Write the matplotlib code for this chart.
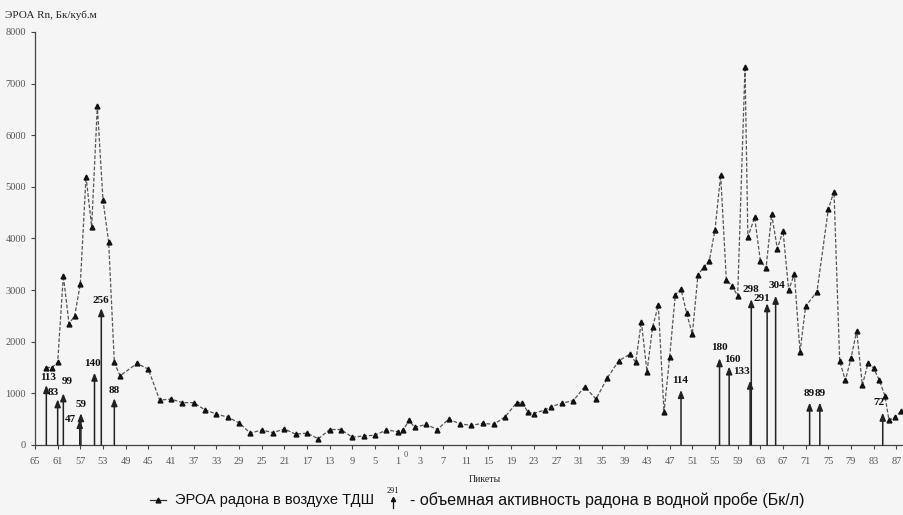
import numpy as np
import matplotlib
matplotlib.use("Agg")
import matplotlib.pyplot as plt
from matplotlib.lines import Line2D

# picket position: left branch negative (65..1), then 0, right branch positive (1..87)
air_pk = [-63, -62, -61, -60, -59, -58, -57, -56, -55, -54, -53, -52, -51, -50,
          -47, -45, -43, -41, -39, -37, -35, -33, -31, -29, -27, -25, -23, -21,
          -19, -17, -15, -13, -11, -9, -7, -5, -3, -1, 0, 1, 2, 4, 6, 8, 10,
          12, 14, 16, 18, 20, 21, 22, 23, 25, 26, 28, 30, 32, 34, 36, 38, 40,
          41, 42, 43, 44, 45, 46, 47, 48, 49, 50, 51, 52, 53, 54, 55, 56, 57,
          58, 59, 60.3, 60.8, 62, 63, 64, 65, 66, 67, 68, 69, 70, 71, 73, 75,
          76, 77, 78, 79, 80, 81, 82, 83, 84, 85, 85.7, 86.8, 87.8]
air_val = [1500, 1500, 1600, 3280, 2350, 2500, 3120, 5200, 4230, 6560, 4740, 3930, 1600, 1340,
           1580, 1470, 870, 890, 820, 820, 680, 600, 540, 430, 230, 290, 240, 310,
           210, 230, 120, 300, 300, 150, 175, 190, 290, 260, 290, 480, 340, 400, 300, 500, 410,
           380, 420, 400, 550, 820, 820, 630, 610, 680, 740, 810, 860, 1130, 890, 1300, 1630, 1760,
           1600, 2390, 1420, 2290, 2710, 630, 1710, 2910, 3020, 2550, 2150, 3300, 3440, 3570, 4170, 5230, 3200,
           3080, 2890, 7330, 4030, 4410, 3570, 3420, 4470, 3800, 4150, 3000, 3310, 1810, 2690, 2970, 4570,
           4910, 1630, 1250, 1680, 2210, 1160, 1580, 1490, 1250, 950, 480, 540, 650]

water_pk = [-63, -61, -60, -57.1, -56.9, -54.5, -53.3, -51,
            49, 55.8, 57.5, 61.2, 61.4, 64.2, 65.7, 71.7, 73.5, 84.6]
water_h = [1160, 885, 1000, 485, 615, 1400, 2650, 905,
           1065, 1680, 1520, 1245, 2825, 2745, 2890, 820, 820, 625]
water_lbl = ["113", "83", "99", "47", "59", "140", "256", "88",
             "114", "180", "160", "133", "298", "291", "304", "89", "89", "72"]
# label offsets in pixels (dx, dy)
lbl_off = [(2, 8), (-4, 7), (4, 12), (-9, 0), (0, 9), (-2, 9), (0, 8), (0, 8),
           (-1, 10), (0, 11), (3, 7), (-9, 9), (0, 10), (-5, 5), (1, 10), (0, 9), (0, 9), (-4, 10)]

tick_pos = list(range(-65, 0, 4)) + list(range(3, 88, 4))
tick_lbl = [str(abs(t)) for t in tick_pos]

serif = ["Liberation Serif", "DejaVu Serif"]
sans = ["Liberation Sans", "DejaVu Sans"]

fig = plt.figure(figsize=(9.04, 5.15), dpi=100, facecolor="#f5f5f5")
ax = fig.add_axes([35 / 904, 70 / 515, 867 / 904, 413 / 515])
ax.set_facecolor("#f5f5f5")

ax.plot(air_pk, air_val, ls=(0, (3, 1.5)), color="#555555", lw=0.9,
        marker="^", ms=3.5, mfc="#111111", mec="#111111")

for x, h, t, (dx, dy) in zip(water_pk, water_h, water_lbl, lbl_off):
    ax.annotate("", xy=(x, h), xytext=(x, 0),
                arrowprops=dict(arrowstyle="-|>,head_length=0.45,head_width=0.18",
                                lw=1.1, color="#222222", shrinkA=0, shrinkB=0))
    ax.annotate(t, xy=(x, h), xytext=(dx, dy), textcoords="offset pixels",
                ha="center", va="center", fontsize=8, fontweight="bold",
                family=serif, color="#111111")

ax.set_xlim(-65, 88)
ax.set_ylim(0, 8000)
ax.set_yticks(np.arange(0, 8001, 1000))
ax.set_xticks(tick_pos)
ax.set_xticklabels(tick_lbl)
for lab in ax.get_xticklabels() + ax.get_yticklabels():
    lab.set_family(serif)
    lab.set_fontsize(7.5)
    lab.set_color("#555555")
ax.tick_params(length=3, width=0.8, color="#444444")
ax.tick_params(axis="x", pad=6)
ax.text(0.4, -200, "0", fontsize=6, family=serif, color="#555555",
        ha="center", va="center")
for s in ["top", "right"]:
    ax.spines[s].set_visible(False)
for s in ["left", "bottom"]:
    ax.spines[s].set_color("#444444")
    ax.spines[s].set_linewidth(0.9)

fig.text(5 / 904, 1 - 15 / 515, "ЭРОА Rn, Бк/куб.м", fontsize=8, family=serif,
         color="#222222", va="center")
fig.text(485 / 904, 1 - 479 / 515, "Пикеты", fontsize=7, family=serif,
         color="#222222", ha="center", va="center")

# legend
ly = 1 - 500 / 515
fig.add_artist(Line2D([150 / 904, 166 / 904], [ly, ly], lw=0.9, color="#333333"))
fig.add_artist(Line2D([158 / 904], [ly], marker="^", ms=3.5, color="#111111", ls=""))
fig.text(175 / 904, ly, "ЭРОА радона в воздухе ТДШ", fontsize=10.5, family=sans,
         color="#111111", va="center")
fig.text(393 / 904, 1 - 491 / 515, "291", fontsize=6, family=serif,
         color="#111111", ha="center", va="center")
fig.add_artist(Line2D([393 / 904, 393 / 904], [1 - 508 / 515, 1 - 499 / 515],
                      lw=0.9, color="#111111"))
fig.add_artist(Line2D([393 / 904], [1 - 499 / 515], marker="^", ms=3,
                      color="#111111", ls=""))
fig.text(410 / 904, ly, "- объемная активность радона в водной пробе (Бк/л)",
         fontsize=11.5, family=sans, color="#111111", va="center")

fig.savefig("out.png", dpi=100, facecolor=fig.get_facecolor())
